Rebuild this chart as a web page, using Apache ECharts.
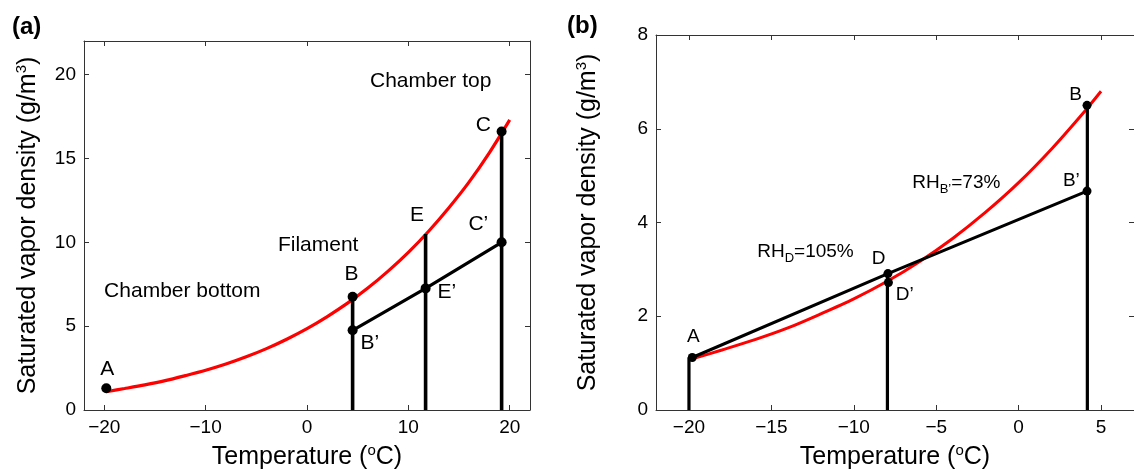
<!DOCTYPE html>
<html>
<head>
<meta charset="utf-8">
<script src="https://cdn.jsdelivr.net/npm/echarts@6/dist/echarts.min.js"></script>
<style>
  html, body { margin: 0; padding: 0; background: #fff; }
  #chart { width: 1134px; height: 476px; }
</style>
</head>
<body>
<div id="chart"></div>
<script>
// ---------------- Data ----------------
// Panel (a): saturated vapor density curve
const tempA = [-19.8, -18, -16, -14, -12, -10, -8, -6, -4, -2, 0, 2, 4, 6, 8, 10, 12, 14, 16, 18, 20];
const satA  = [1.09, 1.28, 1.5, 1.75, 2.05, 2.37, 2.74, 3.17, 3.66, 4.22, 4.85, 5.57, 6.37, 7.27, 8.28, 9.4, 10.66, 12.06, 13.6, 15.35, 17.3];
// Panel (a): marked points
const ptNamesA = ['A', 'B', 'B’', 'E’', 'C', 'C’'];
const ptXA     = [-19.8, 4.5, 4.5, 11.7, 19.2, 19.2];
const ptYA     = [1.3, 6.75, 4.75, 7.25, 16.6, 10.0];
// Panel (a): vertical lines (x, top value)
const vertXA   = [4.5, 11.7, 19.2];
const vertTopA = [6.75, 10.5, 16.6];
// Panel (a): actual profile B'-E'-C'
const profXA = [4.5, 11.7, 19.2];
const profYA = [4.75, 7.25, 10.0];

// Panel (b): saturated vapor density curve
const tempB = [-19.8, -18, -16, -14, -12, -10, -8, -6, -4, -2, 0, 2, 4, 5];
const satB  = [1.09, 1.28, 1.5, 1.75, 2.05, 2.37, 2.74, 3.17, 3.66, 4.22, 4.85, 5.57, 6.37, 6.8];
// Panel (b): marked points
const ptNamesB = ['A', 'D', 'D’', 'B', 'B’'];
const ptXB     = [-19.8, -7.93, -7.9, 4.15, 4.15];
const ptYB     = [1.12, 2.91, 2.72, 6.5, 4.67];
// Panel (b): vertical lines
const vertXB   = [-20.0, -7.96, 4.17];
const vertTopB = [1.12, 2.91, 6.5];
// Panel (b): actual profile A-D-B'
const profXB = [-19.8, -7.93, 4.15];
const profYB = [1.12, 2.91, 4.67];

// Tick labels
const xTicksA = [-20, -10, 0, 10, 20];
const yTicksA = [0, 5, 10, 15, 20];
const xTicksB = [-20, -15, -10, -5, 0, 5];
const yTicksB = [0, 2, 4, 6, 8];

// Text annotations (label text and anchor in data units)
const annTextA = ['Chamber top', 'C', 'E', 'C’', 'Filament', 'B', 'Chamber bottom', 'E’', 'B’', 'A'];
const annXA    = [12.2, 17.4, 10.85, 16.9, 1.1, 4.4, -12.3, 13.8, 6.2, -19.7];
const annYA    = [19.6, 16.95, 11.6, 11.1, 9.8, 8.1, 7.1, 7.0, 4.0, 2.46];
const annTextB = ['B', 'RH{sub|B’}=73%', 'B’', 'RH{sub|D}=105%', 'D', 'D’', 'A'];
const annXB    = [3.46, -3.78, 3.2, -12.93, -8.5, -6.91, -19.74];
const annYB    = [6.72, 4.85, 4.88, 3.37, 3.23, 2.46, 1.56];

// ---------------- Chart ----------------
const FONT = "'Liberation Sans', Arial, Helvetica, sans-serif";
const AXIS_COLOR = '#333';
const zip = (xs, ys) => xs.map((x, i) => [x, ys[i]]);
const fmt = v => (v < 0 ? '\u2212' + Math.abs(v) : String(v));
const supRich = { sup: { fontSize: 15, fontFamily: FONT, color: '#000', verticalAlign: 'top', lineHeight: 15 } };

function mainX(gi, min, max, ticks) {
  return {
    gridIndex: gi, type: 'value', min: min, max: max, position: 'bottom',
    axisLine: { show: true, onZero: false, lineStyle: { color: AXIS_COLOR, width: 1 } },
    axisTick: { show: true, inside: true, length: 5, customValues: ticks, lineStyle: { color: AXIS_COLOR } },
    axisLabel: { show: true, customValues: ticks, formatter: fmt, fontSize: 19, color: '#000', fontFamily: FONT, margin: 8 },
    splitLine: { show: false },
    name: 'Temperature ({sup|o}C)', nameLocation: 'middle', nameGap: 33,
    nameTextStyle: { fontSize: 25, color: '#000', fontFamily: FONT, lineHeight: 28, rich: supRich }
  };
}
function boxX(gi, min, max, ticks) {
  return {
    gridIndex: gi, type: 'value', min: min, max: max, position: 'top',
    axisLine: { show: true, onZero: false, lineStyle: { color: AXIS_COLOR, width: 1 } },
    axisTick: { show: true, inside: true, length: 5, customValues: ticks, lineStyle: { color: AXIS_COLOR } },
    axisLabel: { show: false }, splitLine: { show: false }
  };
}
function mainY(gi, min, max, ticks, gap) {
  return {
    gridIndex: gi, type: 'value', min: min, max: max, position: 'left',
    axisLine: { show: true, onZero: false, lineStyle: { color: AXIS_COLOR, width: 1 } },
    axisTick: { show: true, inside: true, length: 5, customValues: ticks, lineStyle: { color: AXIS_COLOR } },
    axisLabel: { show: true, customValues: ticks, formatter: fmt, fontSize: 19, color: '#000', fontFamily: FONT, margin: 8 },
    splitLine: { show: false },
    name: 'Saturated vapor density (g/m{sup|3})', nameLocation: 'middle', nameGap: gap, nameRotate: 90,
    nameTextStyle: { fontSize: 25, color: '#000', fontFamily: FONT, lineHeight: 28, rich: supRich }
  };
}
function boxY(gi, min, max, ticks) {
  return {
    gridIndex: gi, type: 'value', min: min, max: max, position: 'right',
    axisLine: { show: true, onZero: false, lineStyle: { color: AXIS_COLOR, width: 1 } },
    axisTick: { show: true, inside: true, length: 5, customValues: ticks, lineStyle: { color: AXIS_COLOR } },
    axisLabel: { show: false }, splitLine: { show: false }
  };
}

function lineSeries(xi, yi, data, color, width, z) {
  return { type: 'line', xAxisIndex: xi, yAxisIndex: yi, data: data, showSymbol: false, symbol: 'none',
    lineStyle: { color: color, width: width, opacity: 1 }, z: z, silent: true, animation: false };
}
function dots(xi, yi, xs, ys, size) {
  return { type: 'scatter', xAxisIndex: xi, yAxisIndex: yi, data: zip(xs, ys), symbolSize: size,
    itemStyle: { color: '#000', opacity: 1 }, z: 6, silent: true, animation: false };
}
function annotations(xi, yi, texts, xs, ys, fs) {
  return { type: 'scatter', xAxisIndex: xi, yAxisIndex: yi, symbolSize: 0, z: 7, silent: true, animation: false,
    itemStyle: { opacity: 1 },
    data: texts.map((t, i) => ({ name: t, value: [xs[i], ys[i]] })),
    label: { show: true, position: 'inside', formatter: '{b}', color: '#000', opacity: 1, fontSize: fs, fontFamily: FONT,
      align: 'center', verticalAlign: 'middle',
      rich: { sub: { fontSize: 13, fontFamily: FONT, color: '#000', verticalAlign: 'bottom', lineHeight: 26 } } } };
}

const series = [];
// Panel (a)
series.push(Object.assign(lineSeries(0, 0, zip(tempA, satA), '#ff0000', 3.2, 3), { smooth: 0.3 }));
vertXA.forEach((x, i) => series.push(lineSeries(0, 0, [[x, 0], [x, vertTopA[i]]], '#000', 3.6, 4)));
series.push(lineSeries(0, 0, zip(profXA, profYA), '#000', 3.2, 4));
series.push(dots(0, 0, ptXA, ptYA, 10));
series.push(annotations(0, 0, annTextA, annXA, annYA, 21));
// Panel (b)
series.push(Object.assign(lineSeries(2, 2, zip(tempB, satB), '#ff0000', 3, 3), { smooth: 0.3 }));
vertXB.forEach((x, i) => series.push(lineSeries(2, 2, [[x, 0], [x, vertTopB[i]]], '#000', 3.2, 4)));
series.push(lineSeries(2, 2, zip(profXB, profYB), '#000', 3, 4));
series.push(dots(2, 2, ptXB, ptYB, 9));
series.push(annotations(2, 2, annTextB, annXB, annYB, 19));

const option = {
  backgroundColor: '#fff',
  animation: false,
  title: [
    { text: '(a)', left: 7, top: 10, textStyle: { fontSize: 24, fontWeight: 'bold', color: '#000', fontFamily: FONT } },
    { text: '(b)', left: 562, top: 9, textStyle: { fontSize: 24, fontWeight: 'bold', color: '#000', fontFamily: FONT } }
  ],
  grid: [
    { left: 84, top: 41, width: 446, height: 372 },
    { left: 656, top: 35, width: 488, height: 378 }
  ],
  xAxis: [
    mainX(0, -22, 22, xTicksA), boxX(0, -22, 22, xTicksA),
    mainX(1, -22, 7, xTicksB), boxX(1, -22, 7, xTicksB)
  ],
  yAxis: [
    mainY(0, 0, 22, yTicksA, 42), boxY(0, 0, 22, yTicksA),
    mainY(1, 0, 8, yTicksB, 54), boxY(1, 0, 8, yTicksB)
  ],
  series: series
};

const chart = echarts.init(document.getElementById('chart'), null, { renderer: 'canvas' });
chart.setOption(option);
</script>
</body>
</html>
